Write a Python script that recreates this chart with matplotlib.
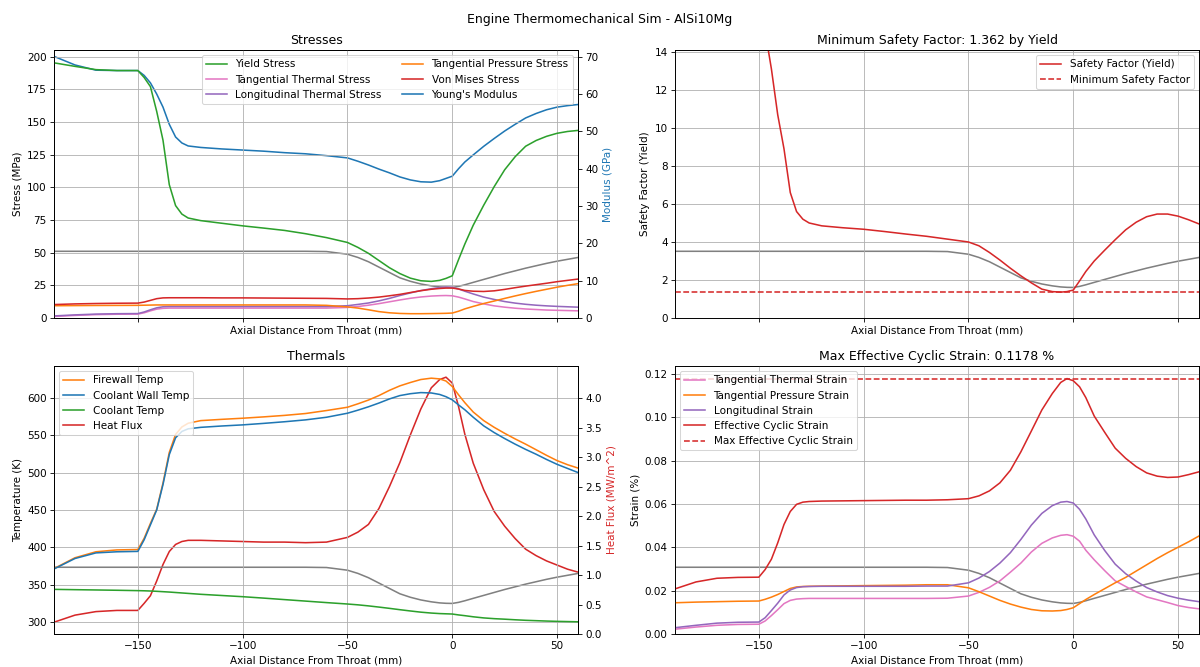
import matplotlib
matplotlib.use("Agg")
import matplotlib.pyplot as plt

# ---------------- data ----------------
x_mm = [-190, -180, -170, -160, -150, -147, -144, -141, -138, -135, -132, -129, -126,
        -120, -110, -100, -90, -80, -70, -60, -50, -45, -40, -35, -30, -25, -20, -15,
        -10, -6, -3, 0, 3, 6, 10, 15, 20, 25, 30, 35, 40, 45, 50, 55, 60]

contour = [24.9, 24.9, 24.9, 24.9, 24.9, 24.9, 24.9, 24.9, 24.9, 24.9, 24.9, 24.9, 24.9,
           24.9, 24.9, 24.9, 24.9, 24.9, 24.9, 24.8, 23.8, 22.6, 21.0, 19.0, 17.0, 15.0,
           13.7, 12.7, 12.0, 11.6, 11.45, 11.4, 11.8, 12.4, 13.3, 14.4, 15.5, 16.6, 17.6,
           18.6, 19.5, 20.4, 21.2, 21.9, 22.6]

yield_stress = [195.2, 192.5, 190.0, 189.3, 189.3, 184.0, 177.0, 158.0, 136.0, 102.0, 86.0,
                79.5, 76.5, 74.5, 72.5, 70.5, 68.8, 67.0, 64.5, 61.5, 57.8, 54.0, 49.5, 44.0,
                38.5, 34.0, 30.5, 28.5, 28.0, 28.8, 30.3, 32.3, 44.7, 56.6, 71.0, 86.3, 100.5,
                113.4, 123.4, 131.4, 135.8, 139.0, 141.3, 142.7, 143.5]
tan_thermal_stress = [1.2, 2.0, 2.6, 2.9, 3.0, 4.0, 5.5, 6.8, 7.4, 7.6, 7.6, 7.6, 7.6,
                      7.6, 7.6, 7.6, 7.6, 7.6, 7.6, 7.6, 8.1, 8.8, 9.8, 11.0, 12.4, 13.8,
                      15.1, 16.1, 16.8, 17.1, 17.2, 17.0, 16.0, 14.6, 12.6, 10.8, 9.3, 8.3,
                      7.5, 6.9, 6.5, 6.1, 5.9, 5.7, 5.5]
long_thermal_stress = [1.6, 2.4, 3.0, 3.3, 3.4, 4.6, 6.3, 7.8, 8.6, 8.8, 8.8, 8.8, 8.8,
                       8.8, 8.8, 8.8, 8.8, 8.8, 8.8, 8.8, 9.4, 10.4, 11.5, 13.1, 15.0, 17.2,
                       19.2, 21.0, 22.4, 23.3, 23.7, 23.5, 22.2, 20.5, 18.4, 16.0, 14.2, 12.6,
                       11.4, 10.5, 9.8, 9.3, 8.9, 8.6, 8.3]
tan_pressure_stress = [9.4, 9.5, 9.6, 9.65, 9.7, 9.8, 9.9, 10.0, 10.0, 10.0, 10.0, 10.0, 10.0,
                       10.0, 10.0, 10.0, 10.0, 10.0, 10.0, 9.7, 8.5, 7.6, 6.3, 4.9, 4.0, 3.5,
                       3.3, 3.3, 3.4, 3.5, 3.6, 3.8, 5.2, 7.0, 8.9, 11.1, 13.0, 15.0, 16.9,
                       18.7, 20.4, 22.0, 23.6, 25.0, 26.3]
von_mises = [10.3, 10.8, 11.1, 11.3, 11.4, 12.2, 13.5, 14.8, 15.4, 15.5, 15.5, 15.5, 15.5,
             15.5, 15.4, 15.4, 15.3, 15.2, 15.1, 15.0, 14.6, 14.8, 15.3, 16.0, 17.0, 18.1,
             19.5, 20.9, 22.0, 22.6, 22.9, 22.9, 22.2, 21.1, 20.5, 20.3, 20.8, 21.9, 23.2,
             24.4, 25.5, 26.6, 27.8, 28.8, 29.8]
youngs_modulus = [70.1, 67.8, 66.4, 66.3, 66.3, 65.0, 63.0, 60.0, 56.5, 51.9, 48.5, 46.9, 46.1,
                  45.7, 45.3, 45.0, 44.7, 44.3, 44.0, 43.5, 42.9, 42.0, 41.0, 39.9, 38.9, 37.8,
                  37.0, 36.5, 36.4, 36.8, 37.4, 38.0, 40.0, 41.8, 43.7, 46.0, 48.1, 50.1, 51.9,
                  53.6, 54.8, 55.8, 56.5, 56.9, 57.2]

safety_factor = [19.0, 17.8, 17.1, 16.8, 16.6, 15.1, 13.1, 10.7, 8.9, 6.6, 5.6, 5.2, 5.0,
                 4.85, 4.75, 4.67, 4.55, 4.42, 4.3, 4.15, 4.0, 3.8, 3.45, 3.05, 2.62, 2.22,
                 1.85, 1.52, 1.39, 1.362, 1.39, 1.47, 1.95, 2.45, 3.0, 3.57, 4.12, 4.64, 5.04,
                 5.33, 5.47, 5.47, 5.36, 5.17, 4.95]
min_safety_factor = 1.362

firewall_temp = [371.5, 386.0, 394.0, 396.5, 397.0, 412.0, 432.0, 451.0, 486.0, 527.0, 551.0,
                 561.0, 566.0, 569.5, 571.2, 572.7, 574.5, 576.5, 579.0, 583.0, 587.4, 592.0,
                 597.0, 603.0, 610.0, 616.0, 620.5, 624.5, 626.3, 625.3, 622.5, 615.1, 604.0,
                 593.5, 581.0, 569.5, 560.5, 552.5, 545.0, 538.0, 530.5, 523.0, 516.0, 510.5,
                 506.0]
coolant_wall_temp = [371.0, 385.0, 392.5, 394.0, 394.5, 410.0, 430.0, 450.0, 484.0, 524.0,
                     546.5, 555.0, 558.5, 560.5, 562.3, 563.8, 565.8, 568.0, 570.5, 574.0,
                     579.4, 583.5, 588.0, 593.0, 598.5, 603.0, 605.5, 607.0, 606.5, 604.5,
                     601.5, 597.3, 590.5, 584.0, 574.0, 562.5, 553.5, 545.5, 538.0, 531.0,
                     524.5, 517.5, 511.0, 505.5, 500.0]
coolant_temp = [343.7, 343.3, 342.9, 342.5, 342.0, 341.8, 341.5, 341.1, 340.6, 340.1, 339.5,
                338.9, 338.3, 337.1, 335.5, 333.9, 332.0, 330.0, 328.0, 326.0, 324.1, 323.0,
                321.6, 320.0, 318.3, 316.5, 314.8, 313.2, 312.0, 311.3, 311.0, 310.7, 309.5,
                308.5, 307.0, 305.5, 304.5, 303.8, 303.0, 302.3, 301.8, 301.3, 300.9, 300.6,
                300.3]
heat_flux = [0.20, 0.32, 0.38, 0.40, 0.40, 0.52, 0.65, 0.90, 1.18, 1.40, 1.52, 1.57, 1.59,
             1.59, 1.58, 1.57, 1.56, 1.56, 1.55, 1.56, 1.64, 1.73, 1.86, 2.13, 2.50, 2.91,
             3.38, 3.82, 4.18, 4.32, 4.36, 4.26, 3.86, 3.39, 2.90, 2.45, 2.08, 1.83, 1.62,
             1.44, 1.33, 1.24, 1.17, 1.10, 1.05]
heat_flux_ticks = [0.0, 0.5, 1.0, 1.5, 2.0, 2.5, 3.0, 3.5, 4.0]

tan_thermal_strain = [0.0022, 0.0032, 0.0040, 0.0044, 0.0045, 0.0060, 0.0085, 0.0112, 0.0140,
                      0.0155, 0.0161, 0.0163, 0.0164, 0.0164, 0.0164, 0.0164, 0.0164, 0.0164,
                      0.0164, 0.0165, 0.0175, 0.0192, 0.0215, 0.0245, 0.0285, 0.0327, 0.0378,
                      0.0418, 0.0443, 0.0455, 0.0458, 0.0451, 0.0428, 0.0386, 0.0342, 0.0292,
                      0.0245, 0.0219, 0.0194, 0.0171, 0.0158, 0.0145, 0.0131, 0.0122, 0.0116]
tan_pressure_strain = [0.0144, 0.0147, 0.0149, 0.0151, 0.0152, 0.0160, 0.0170, 0.0182, 0.0196,
                       0.0210, 0.0217, 0.0219, 0.0220, 0.0221, 0.0222, 0.0223, 0.0224, 0.0225,
                       0.0227, 0.0227, 0.0213, 0.0195, 0.0175, 0.0155, 0.0138, 0.0124, 0.0113,
                       0.0107, 0.0106, 0.0108, 0.0113, 0.0121, 0.0140, 0.0159, 0.0182, 0.0209,
                       0.0236, 0.0261, 0.0290, 0.0319, 0.0348, 0.0375, 0.0400, 0.0425, 0.0452]
long_strain = [0.0029, 0.0040, 0.0050, 0.0054, 0.0055, 0.0075, 0.0108, 0.0142, 0.0180, 0.0203,
               0.0214, 0.0218, 0.0219, 0.0220, 0.0220, 0.0220, 0.0220, 0.0220, 0.0221, 0.0221,
               0.0236, 0.0258, 0.0288, 0.0327, 0.0375, 0.0436, 0.0502, 0.0556, 0.0592, 0.0608,
               0.0611, 0.0604, 0.0575, 0.0530, 0.0457, 0.0385, 0.0322, 0.0278, 0.0244, 0.0214,
               0.0194, 0.0177, 0.0165, 0.0156, 0.0149]
eff_cyclic_strain = [0.0208, 0.0240, 0.0257, 0.0261, 0.0262, 0.0297, 0.0345, 0.0420, 0.0505,
                     0.0565, 0.0598, 0.0608, 0.0611, 0.0613, 0.0614, 0.0615, 0.0616, 0.0617,
                     0.0617, 0.0619, 0.0624, 0.0637, 0.0660, 0.0697, 0.0755, 0.0840, 0.0936,
                     0.1033, 0.1109, 0.1160, 0.1178, 0.1168, 0.1140, 0.1090, 0.1005, 0.0930,
                     0.0857, 0.0810, 0.0772, 0.0743, 0.0728, 0.0722, 0.0724, 0.0735, 0.0748]
max_eff_strain = 0.1178

# ---------------- figure ----------------
fig, axes = plt.subplots(2, 2, sharex=True, figsize=(16, 667 / 75), dpi=75)
fig.subplots_adjust(left=0.045, right=0.9992, top=0.925, bottom=0.0495,
                    wspace=0.185, hspace=0.179)
fig.suptitle("Engine Thermomechanical Sim - AlSi10Mg")

xlabel = "Axial Distance From Throat (mm)"


def add_contour(ax):
    axc = ax.twinx()
    axc.plot(x_mm, contour, color="gray")
    axc.set_ylim(0, 100)
    axc.set_yticks([])
    return axc


# Stresses
ax = axes[0, 0]
l1, = ax.plot(x_mm, yield_stress, color="tab:green", label="Yield Stress")
l2, = ax.plot(x_mm, tan_thermal_stress, color="tab:pink", label="Tangential Thermal Stress")
l3, = ax.plot(x_mm, long_thermal_stress, color="tab:purple", label="Longitudinal Thermal Stress")
l4, = ax.plot(x_mm, tan_pressure_stress, color="tab:orange", label="Tangential Pressure Stress")
l5, = ax.plot(x_mm, von_mises, color="tab:red", label="Von Mises Stress")
ax.set_ylim(0, 205)
ax.set_ylabel("Stress (MPa)")
ax.set_xlabel(xlabel)
ax.set_title("Stresses")
ax.grid(True)
ax2 = ax.twinx()
l6, = ax2.plot(x_mm, youngs_modulus, color="tab:blue", label="Young's Modulus")
ax2.set_ylim(0, 71.8)
ax2.set_ylabel("Modulus (GPa)", color="tab:blue")
add_contour(ax)
ax.legend(handles=[l1, l2, l3, l4, l5, l6], loc="upper right", ncol=2)
ax.set_zorder(3)
ax.patch.set_visible(False)
ax.set_xlim(-190, 60)

# Safety factor
ax = axes[0, 1]
s1, = ax.plot(x_mm, safety_factor, color="tab:red", label="Safety Factor (Yield)")
s2 = ax.axhline(min_safety_factor, color="tab:red", linestyle="--", label="Minimum Safety Factor")
ax.set_ylim(0, 14.1)
ax.set_ylabel("Safety Factor (Yield)")
ax.set_xlabel(xlabel)
ax.set_title(f"Minimum Safety Factor: {min_safety_factor:.3f} by Yield")
ax.grid(True)
add_contour(ax)
ax.legend(handles=[s1, s2], loc="upper right")
ax.set_zorder(3)
ax.patch.set_visible(False)

# Thermals
ax = axes[1, 0]
t1, = ax.plot(x_mm, firewall_temp, color="tab:orange", label="Firewall Temp")
t2, = ax.plot(x_mm, coolant_wall_temp, color="tab:blue", label="Coolant Wall Temp")
t3, = ax.plot(x_mm, coolant_temp, color="tab:green", label="Coolant Temp")
ax.set_ylabel("Temperature (K)")
ax.set_xlabel(xlabel)
ax.set_title("Thermals")
ax.grid(True)
ax2 = ax.twinx()
t4, = ax2.plot(x_mm, heat_flux, color="tab:red", label="Heat Flux")
ax2.set_ylim(0, 4.55)
ax2.set_yticks(heat_flux_ticks)
ax2.set_yticklabels([f"{v:.1f}" for v in heat_flux_ticks])
ax2.set_ylabel("Heat Flux (MW/m^2)", color="tab:red")
add_contour(ax)
ax.legend(handles=[t1, t2, t3, t4], loc="upper left")
ax.set_zorder(3)
ax.patch.set_visible(False)

# Strains
ax = axes[1, 1]
e1, = ax.plot(x_mm, tan_thermal_strain, color="tab:pink", label="Tangential Thermal Strain")
e2, = ax.plot(x_mm, tan_pressure_strain, color="tab:orange", label="Tangential Pressure Strain")
e3, = ax.plot(x_mm, long_strain, color="tab:purple", label="Longitudinal Strain")
e4, = ax.plot(x_mm, eff_cyclic_strain, color="tab:red", label="Effective Cyclic Strain")
e5 = ax.axhline(max_eff_strain, color="tab:red", linestyle="--", label="Max Effective Cyclic Strain")
ax.set_ylim(0, 0.1236)
ax.set_ylabel("Strain (%)")
ax.set_xlabel(xlabel)
ax.set_title(f"Max Effective Cyclic Strain: {max_eff_strain:.4f} %")
ax.grid(True)
add_contour(ax)
ax.legend(handles=[e1, e2, e3, e4, e5], loc="upper left")
ax.set_zorder(3)
ax.patch.set_visible(False)

fig.savefig("out.png", dpi=75)
